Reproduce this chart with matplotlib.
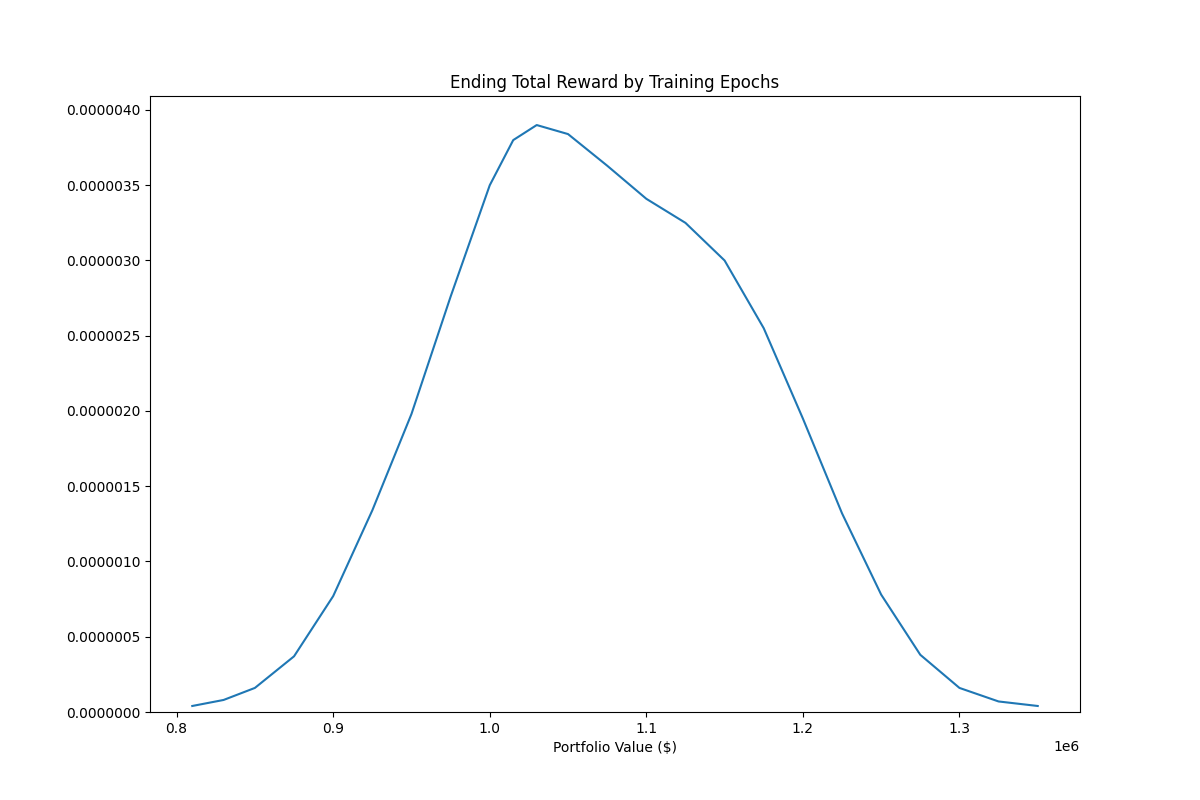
import matplotlib
matplotlib.use("Agg")
import matplotlib.pyplot as plt
from matplotlib.ticker import FormatStrFormatter

# KDE curve
portfolio_value = [810000, 830000, 850000, 875000, 900000, 925000, 950000, 975000,
                   1000000, 1015000, 1030000, 1050000, 1075000, 1100000, 1125000,
                   1150000, 1175000, 1200000, 1225000, 1250000, 1275000, 1300000,
                   1325000, 1350000]
density = [0.04e-6, 0.08e-6, 0.16e-6, 0.37e-6, 0.77e-6, 1.34e-6, 1.98e-6, 2.76e-6,
           3.50e-6, 3.80e-6, 3.90e-6, 3.84e-6, 3.63e-6, 3.41e-6, 3.25e-6,
           3.00e-6, 2.55e-6, 1.95e-6, 1.32e-6, 0.78e-6, 0.38e-6, 0.16e-6,
           0.07e-6, 0.04e-6]

fig, ax = plt.subplots(figsize=(12, 8), dpi=100)
ax.plot(portfolio_value, density)
ax.set_ylim(0, None)
ax.yaxis.set_major_formatter(FormatStrFormatter('%.7f'))
ax.set_title("Ending Total Reward by Training Epochs")
ax.set_xlabel("Portfolio Value ($)")
fig.savefig("out.png")
